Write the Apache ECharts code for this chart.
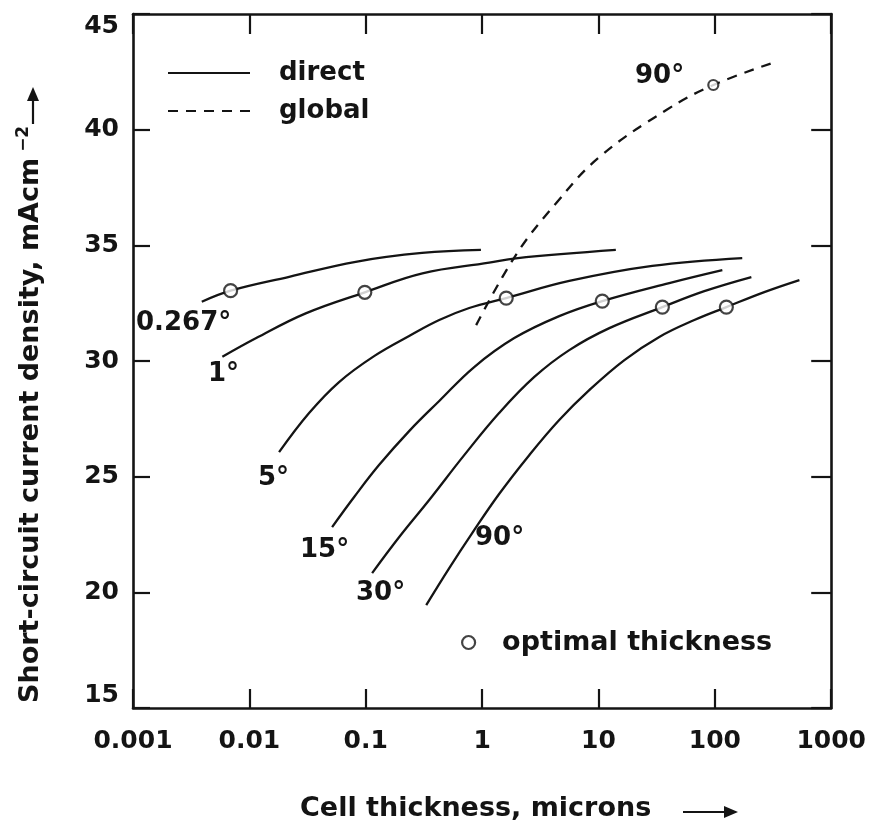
<!DOCTYPE html>
<html>
<head>
<meta charset="utf-8">
<script src="https://cdn.jsdelivr.net/npm/echarts@6/dist/echarts.min.js"></script>
<style>html,body{margin:0;padding:0;background:#fff}#c{width:869px;height:828px}</style>
</head>
<body>
<div id="c"></div>
<script>
// ---- data ----
const xTickLabels = ['0.001', '0.01', '0.1', '1', '10', '100', '1000'];
const yTickLabels = ['15', '20', '25', '30', '35', '40', '45'];

// direct irradiation, half-angle 0.267 deg
const x_0267 = [0.0039, 0.0069, 0.022, 0.082, 0.305, 0.977];
const y_0267 = [32.56, 33.04, 33.64, 34.29, 34.67, 34.8];
// 1 deg
const x_1 = [0.00586, 0.01135, 0.0305, 0.0982, 0.307, 1.15, 1.95, 14.1];
const y_1 = [30.18, 30.98, 32.06, 32.97, 33.79, 34.25, 34.44, 34.8];
// 5 deg
const x_5 = [0.018, 0.0326, 0.059, 0.118, 0.236, 0.428, 0.775, 1.612, 5.61, 29.0, 172];
const y_5 = [26.06, 27.75, 29.09, 30.21, 31.08, 31.77, 32.29, 32.72, 33.46, 34.11, 34.45];
// 15 deg
const x_15 = [0.0514, 0.0795, 0.130, 0.236, 0.428, 0.855, 1.89, 4.6, 10.78, 40.6, 116];
const y_15 = [22.82, 24.12, 25.5, 26.97, 28.27, 29.74, 30.99, 31.94, 32.59, 33.37, 33.93];
// 30 deg
const x_30 = [0.1135, 0.194, 0.351, 0.702, 1.40, 2.81, 5.61, 12.4, 35.4, 81.2, 206];
const y_30 = [20.83, 22.39, 23.99, 25.93, 27.75, 29.31, 30.47, 31.42, 32.33, 33.02, 33.63];
// 90 deg
const x_90 = [0.331, 0.522, 0.822, 1.40, 2.54, 4.6, 8.33, 16.7, 33.3, 66.6, 125.6, 266, 533];
const y_90 = [19.45, 21.05, 22.56, 24.25, 25.93, 27.45, 28.74, 30.04, 31.04, 31.77, 32.33, 32.98, 33.5];
// global, 90 deg
const x_90g = [0.889, 1.95, 4.34, 10.2, 38.3, 97, 312];
const y_90g = [31.55, 34.58, 36.83, 38.82, 40.85, 41.93, 42.88];
// optimal thickness points
const optX = [0.0069, 0.0982, 1.612, 10.78, 35.4, 125.6, 97];
const optY = [33.04, 32.97, 32.72, 32.59, 32.33, 32.33, 41.93];

const curveLabels = ['0.267°', '1°', '5°', '15°', '30°', '90°', '90°'];

// ---- chart ----
const FONT = '"DejaVu Sans", "Liberation Sans", sans-serif';
const INK = '#141414';
const zip = (xs, ys) => xs.map((x, i) => [x, ys[i]]);

const directCurves = [[x_0267, y_0267], [x_1, y_1], [x_5, y_5], [x_15, y_15], [x_30, y_30], [x_90, y_90]];

const series = directCurves.map(([xs, ys]) => ({
  type: 'line', name: 'direct', data: zip(xs, ys), symbol: 'none',
  smooth: 0.4, silent: true, z: 2,
  lineStyle: { color: INK, width: 2.3 }, itemStyle: { color: INK }
}));
series.push({
  type: 'line', name: 'global', data: zip(x_90g, y_90g), symbol: 'none',
  smooth: 0.4, silent: true, z: 2,
  lineStyle: { color: INK, width: 2.3, type: [10, 8] }, itemStyle: { color: INK }
});
series.push({
  type: 'scatter', name: 'optimal thickness',
  data: zip(optX, optY).map((p, i) => ({ value: p, symbolSize: i === optX.length - 1 ? 10 : 13 })),
  symbol: 'circle', silent: true, z: 5,
  itemStyle: { color: '#fff', borderColor: INK, borderWidth: 2.2 }
});

const axisLine = { show: true, lineStyle: { color: INK, width: 2.6 } };
const xFmt = v => xTickLabels[Math.round(Math.log10(v)) + 3];
const labelStyle = { fontSize: 25, fontWeight: 'bold', fontFamily: FONT, color: INK };

const textStyleBig = { fontSize: 26, fontWeight: 'bold', fontFamily: FONT, fill: INK };
const labelPos = [[136, 323], [208, 374], [258, 478], [300, 550], [356, 593], [475, 538], [635, 76]];

const graphic = curveLabels.map((t, i) => ({
  type: 'text', x: labelPos[i][0], y: labelPos[i][1], silent: true,
  style: Object.assign({ text: t, align: 'left', verticalAlign: 'middle' }, textStyleBig)
}));
// axis titles
graphic.push({
  type: 'text', x: 300, y: 809, silent: true,
  style: { text: 'Cell thickness, microns', align: 'left', verticalAlign: 'middle', fontSize: 27, fontWeight: 'bold', fontFamily: FONT, fill: INK }
});
graphic.push({ type: 'line', silent: true, shape: { x1: 683, y1: 812, x2: 728, y2: 812 }, style: { stroke: INK, lineWidth: 2.2 } });
graphic.push({ type: 'polygon', silent: true, shape: { points: [[724, 806], [738, 812], [724, 818]] }, style: { fill: INK } });
graphic.push({
  type: 'text', x: 31, y: 703, rotation: Math.PI / 2, silent: true,
  style: {
    text: '{a|Short-circuit current density, mAcm}{s|−2}', align: 'left', verticalAlign: 'middle',
    rich: {
      a: { fontSize: 27, fontWeight: 'bold', fontFamily: FONT, fill: INK, lineHeight: 32 },
      s: { fontSize: 17, fontWeight: 'bold', fontFamily: FONT, fill: INK, verticalAlign: 'top', lineHeight: 18, padding: [0, 0, 0, 6] }
    }
  }
});
graphic.push({ type: 'line', silent: true, shape: { x1: 33, y1: 124, x2: 33, y2: 98 }, style: { stroke: INK, lineWidth: 2.2 } });
graphic.push({ type: 'polygon', silent: true, shape: { points: [[27, 101], [33, 87], [39, 101]] }, style: { fill: INK } });

const option = {
  backgroundColor: '#fff',
  animation: false,
  grid: { left: 133, right: 37, top: 14, bottom: 120 },
  xAxis: [
    {
      type: 'log', logBase: 10, min: 0.001, max: 1000, splitNumber: 6, position: 'bottom',
      axisLine, axisTick: { show: true, inside: true, length: 19, lineStyle: { color: INK, width: 2.2 } },
      axisLabel: Object.assign({ formatter: xFmt, margin: 21 }, labelStyle),
      splitLine: { show: false }, minorTick: { show: false }
    },
    {
      type: 'log', logBase: 10, min: 0.001, max: 1000, splitNumber: 6, position: 'top',
      axisLine, axisTick: { show: true, inside: true, length: 20, lineStyle: { color: INK, width: 2.2 } },
      axisLabel: { show: false }, splitLine: { show: false }
    }
  ],
  yAxis: [
    {
      type: 'value', min: 15, max: 45, interval: 5, position: 'left',
      axisLine, axisTick: { show: true, inside: true, length: 17, lineStyle: { color: INK, width: 2.2 } },
      axisLabel: Object.assign({
        margin: 14, formatter: v => yTickLabels[Math.round((v - 15) / 5)],
        verticalAlignMaxLabel: 'top', verticalAlignMinLabel: 'bottom'
      }, labelStyle),
      splitLine: { show: false }
    },
    {
      type: 'value', min: 15, max: 45, interval: 5, position: 'right',
      axisLine, axisTick: { show: true, inside: true, length: 20, lineStyle: { color: INK, width: 2.2 } },
      axisLabel: { show: false }, splitLine: { show: false }
    }
  ],
  legend: [
    {
      data: ['direct', 'global'], orient: 'vertical', left: 162, top: 55,
      itemWidth: 82, itemHeight: 14, itemGap: 12, selectedMode: false,
      itemStyle: { color: 'rgba(0,0,0,0)', borderColor: 'rgba(0,0,0,0)', borderWidth: 0, opacity: 0 },
      textStyle: { fontSize: 26, fontWeight: 'bold', fontFamily: FONT, color: INK, padding: [0, 0, 0, 24] }
    },
    {
      data: ['optimal thickness'], left: 456, top: 624,
      itemWidth: 13, itemHeight: 13, selectedMode: false,
      itemStyle: { color: '#fff', borderColor: INK, borderWidth: 2.2 },
      textStyle: { fontSize: 27, fontWeight: 'bold', fontFamily: FONT, color: INK, padding: [0, 0, 0, 22] }
    }
  ],
  series,
  graphic
};

const chart = echarts.init(document.getElementById('c'), null, { renderer: 'canvas' });
chart.setOption(option);
</script>
</body>
</html>
